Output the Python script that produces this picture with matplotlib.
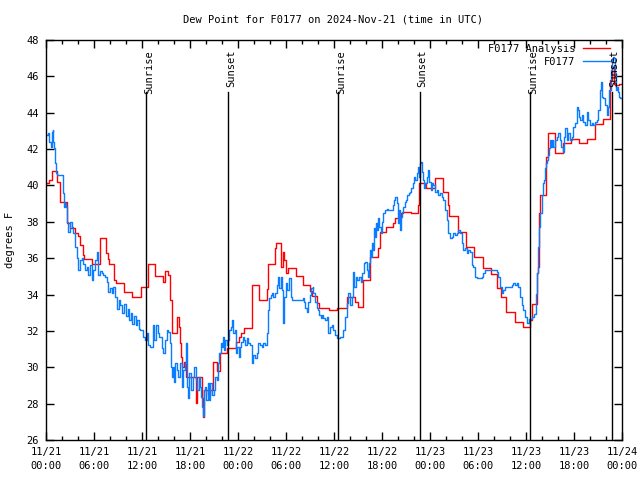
import matplotlib
matplotlib.use("Agg")
import matplotlib.pyplot as plt
import matplotlib.transforms as mtrans
from matplotlib.ticker import MultipleLocator

plt.rcParams['font.family'] = ['DejaVu Sans Mono']
plt.rcParams['font.size'] = 7.5

# hours since 2024-11-21 00:00 UTC
analysis_t = [0.0, 0.42, 0.71, 1.33, 1.75, 2.58, 3.0, 3.625, 3.95, 4.25, 4.58, 4.79, 5.71,
              6.75, 7.5, 7.7, 7.9, 8.5, 8.7, 9.8, 10.8, 11.83, 12.7, 13.65, 14.6, 14.875,
              15.25, 15.55, 15.71, 16.42, 16.6, 16.75, 16.83, 16.96, 17.25, 17.45, 18.7,
              18.9, 19.5, 19.6, 19.8, 20.2, 20.5, 20.83, 21.4, 21.7, 22.67, 23.75, 24.08,
              24.42, 24.75, 25.75, 26.6, 27.6, 27.8, 28.6, 28.75, 29.4, 29.6, 29.75, 30.0,
              30.2, 31.2, 32.1, 33.0, 33.2, 33.9, 34.1, 35.4, 36.42, 37.58, 38.6, 39.0,
              39.6, 40.5, 41.55, 41.75, 42.5, 43.4, 43.625, 44.33, 44.6, 45.58, 46.54,
              46.67, 47.5, 48.625, 49.58, 50.3, 50.42, 51.5, 52.5, 53.5, 54.58, 55.58,
              56.42, 56.9, 57.5, 58.6, 59.58, 60.5, 60.7, 61.0, 61.33, 61.46, 61.67,
              61.75, 62.5, 62.7, 63.6, 64.58, 65.58, 66.6, 67.67, 68.6, 69.58, 70.5,
              70.7, 71.0, 71.125, 71.6, 72.0]
analysis_v = [40.12, 40.3, 40.81, 40.21, 39.1, 37.92, 37.64, 37.4, 37.2, 36.72, 36.17, 35.94,
              35.68, 37.09, 36.3, 35.94, 35.68, 34.8, 34.62, 34.16, 33.88, 34.43, 35.68,
              35.02, 34.7, 35.31, 35.1, 33.7, 31.87, 32.74, 32.23, 31.32, 30.58, 30.04,
              30.3, 29.49, 28.02, 29.49, 28.3, 27.28, 28.76, 28.48, 28.76, 30.31, 29.8,
              30.77, 31.04, 31.41, 31.68, 31.9, 32.14, 34.52, 33.7, 34.3, 35.68, 36.54,
              36.81, 35.53, 36.36, 35.9, 35.2, 35.44, 35.0, 34.5, 34.2, 33.9, 33.55,
              33.24, 33.15, 33.24, 33.85, 33.6, 33.33, 34.8, 36.08, 36.54, 37.46, 37.7,
              37.92, 38.19, 38.46, 38.55, 38.46, 38.92, 40.12, 39.84, 40.39, 39.66, 38.95,
              38.32, 37.46, 36.6, 36.08, 35.44, 35.13, 34.34, 33.88, 33.06, 32.5, 32.23,
              32.62, 33.47, 33.5, 35.16, 35.5, 38.46, 39.47, 41.58, 42.86, 41.8, 42.31,
              42.53, 42.35, 42.53, 43.38, 43.63, 45.8, 46.53, 45.6, 45.52, 45.6, 45.6]

obs_t = [0.0, 0.29, 0.42, 0.58, 0.71, 0.83, 0.92, 1.04, 1.125, 1.25, 1.33, 2.17, 2.25,
         2.375, 2.5, 2.58, 2.79, 3.0, 3.21, 3.42, 3.625, 3.83, 4.04, 4.25, 4.46, 4.67,
         4.875, 5.08, 5.29, 5.5, 5.71, 5.92, 6.125, 6.33, 6.54, 6.75, 6.96, 7.17, 7.375,
         7.58, 7.79, 8.0, 8.21, 8.42, 8.625, 8.9, 9.1, 9.3, 9.5, 9.75, 10.0, 10.2, 10.4,
         10.6, 10.8, 11.0, 11.2, 11.4, 11.6, 11.75, 12.17, 12.38, 12.58, 12.79, 13.0,
         13.33, 13.5, 13.71, 13.96, 14.17, 14.46, 14.58, 14.88, 15.08, 15.29, 15.5, 15.58,
         15.71, 15.92, 16.04, 16.17, 16.33, 16.54, 16.75, 16.96, 17.17, 17.38, 17.5,
         17.67, 17.79, 17.92, 18.13, 18.33, 18.54, 18.75, 18.92, 19.08, 19.25, 19.38,
         19.5, 19.63, 19.75, 19.92, 20.04, 20.21, 20.38, 20.54, 20.75, 20.96, 21.17,
         21.38, 21.54, 21.67, 21.83, 21.96, 22.08, 22.25, 22.42, 22.58, 22.75, 22.92,
         23.08, 23.25, 23.42, 23.58, 23.75, 23.92, 24.08, 24.25, 24.42, 24.58, 24.75,
         24.92, 25.08, 25.29, 25.5, 25.71, 25.92, 26.13, 26.33, 26.54, 26.75, 26.96,
         27.17, 27.38, 27.58, 27.71, 27.88, 28.08, 28.25, 28.42, 28.63, 28.83, 29.04,
         29.17, 29.33, 29.46, 29.58, 29.67, 29.79, 30.0, 30.17, 30.38, 30.58, 30.75,
         32.08, 32.25, 32.42, 32.58, 32.79, 33.0, 33.17, 33.33, 33.42, 33.63, 33.83,
         34.04, 34.17, 34.33, 34.5, 34.67, 34.88, 35.08, 35.29, 35.5, 35.71, 35.92,
         36.13, 36.33, 36.75, 37.17, 37.375, 37.58, 37.79, 38.0, 38.21, 38.33, 38.42,
         38.54, 38.71, 38.92, 39.125, 39.33, 39.54, 39.75, 39.92, 40.08, 40.21, 40.375,
         40.5, 40.625, 40.79, 40.92, 41.04, 41.17, 41.29, 41.42, 41.54, 41.67, 41.83,
         42.0, 42.17, 42.375, 42.58, 42.79, 43.33, 43.5, 43.67, 43.83, 43.96, 44.08,
         44.21, 44.33, 44.5, 44.67, 44.83, 45.0, 45.17, 45.33, 45.5, 45.67, 45.83, 46.0,
         46.17, 46.33, 46.46, 46.58, 46.75, 46.875, 47.0, 47.17, 47.29, 47.42, 47.58,
         47.75, 47.92, 48.08, 48.21, 48.42, 48.625, 48.83, 49.04, 49.25, 49.46, 49.67,
         49.875, 50.08, 50.29, 50.5, 50.71, 50.92, 51.125, 51.33, 51.54, 51.75, 51.96,
         52.17, 52.375, 52.58, 52.79, 53.0, 53.21, 53.42, 53.625, 53.83, 54.46, 54.67,
         54.875, 56.33, 56.54, 56.75, 56.96, 57.17, 57.375, 58.21, 58.42, 58.625, 58.83,
         59.04, 59.25, 59.46, 59.67, 59.875, 60.08, 60.4, 60.7, 61.04, 61.25, 61.42,
         61.54, 61.67, 61.75, 61.96, 62.08, 62.25, 62.375, 62.5, 62.58, 62.71, 62.83,
         63.0, 63.125, 63.25, 63.42, 63.625, 63.83, 64.04, 64.25, 64.42, 64.58, 64.75,
         64.92, 65.08, 65.29, 65.5, 65.71, 65.92, 66.125, 66.33, 66.46, 66.58, 66.75,
         66.96, 67.17, 67.375, 67.58, 67.79, 68.0, 68.2, 68.4, 68.6, 68.83, 69.04, 69.25,
         69.375, 69.5, 69.67, 69.875, 70.08, 70.25, 70.42, 70.58, 70.71, 70.83, 70.96,
         71.08, 71.21, 71.33, 71.46, 71.58, 71.75, 72.0]
obs_v = [42.77, 42.86, 42.41, 42.13, 42.96, 43.05, 42.41, 42.04, 41.22, 40.67, 40.58, 39.57,
         38.83, 39.02, 38.83, 38.0, 37.45, 38.0, 37.73, 37.37, 36.64, 36.0, 35.36, 35.9,
         36.0, 35.7, 35.36, 35.54, 35.08, 35.63, 34.8, 35.36, 35.9, 36.36, 35.08, 35.27,
         35.17, 35.08, 34.99, 34.71, 34.16, 34.34, 34.07, 34.43, 33.88, 33.2, 33.7, 33.4,
         33.0, 33.5, 32.8, 33.2, 32.6, 33.0, 32.4, 32.8, 32.3, 32.6, 32.1, 32.05, 31.68,
         31.5, 31.87, 31.23, 31.13, 32.32, 31.5, 32.32, 31.87, 31.68, 31.04, 30.77, 31.5,
         32.05, 31.96, 31.32, 30.04, 29.49, 30.04, 29.21, 30.22, 29.86, 29.49, 30.22,
         28.94, 29.86, 30.22, 31.32, 28.94, 28.3, 29.67, 28.76, 29.49, 30.04, 29.3, 28.76,
         29.49, 28.94, 28.39, 27.84, 27.3, 28.76, 28.94, 28.21, 29.12, 28.21, 29.12, 28.48,
         28.76, 29.49, 29.3, 30.22, 30.77, 31.32, 31.13, 31.68, 30.95, 31.5, 31.23, 31.5,
         32.05, 32.23, 32.6, 31.87, 32.05, 30.77, 31.13, 30.58, 31.13, 31.41, 31.68, 31.5,
         31.23, 31.59, 31.32, 31.23, 30.22, 30.68, 30.5, 30.77, 31.32, 31.23, 31.13, 31.32,
         31.23, 31.87, 33.15, 33.79, 33.97, 34.06, 33.88, 34.06, 34.52, 34.98, 34.34, 34.98,
         34.25, 33.52, 32.42, 33.88, 34.61, 34.25, 34.89, 33.88, 33.7, 33.79, 33.6, 33.24,
         33.06, 33.6, 33.97, 34.34, 34.43, 34.07, 33.6, 33.24, 33.15, 32.88, 32.7, 32.88,
         32.7, 32.6, 32.79, 31.87, 32.23, 32.32, 32.05, 31.77, 31.59, 31.68, 32.05, 32.78,
         33.52, 34.07, 33.43, 33.89, 34.8, 35.26, 34.44, 34.98, 34.8, 34.98, 34.71, 35.17,
         35.72, 35.81, 35.35, 34.98, 35.72, 36.45, 36.08, 36.81, 36.45, 37.64, 37.18, 37.91,
         37.55, 38.19, 37.73, 37.37, 38.0, 38.46, 38.64, 38.73, 38.64, 38.92, 39.2, 39.38,
         39.01, 37.91, 38.64, 37.55, 38.28, 38.55, 38.83, 39.1, 39.2, 39.47, 39.56, 39.65,
         39.84, 40.11, 40.48, 40.3, 40.66, 41.03, 40.48, 41.21, 41.3, 40.75, 40.3, 39.84,
         40.11, 40.48, 40.84, 40.2, 39.75, 40.11, 40.02, 39.65, 39.75, 39.47, 39.56, 39.38,
         39.2, 38.64, 38.1, 37.37, 37.09, 37.18, 37.37, 37.27, 37.37, 37.55, 37.37, 36.81,
         36.45, 36.54, 36.27, 36.45, 36.36, 35.63, 35.54, 34.98, 34.89, 34.98, 35.17, 35.35,
         35.26, 34.98, 34.44, 34.07, 34.25, 34.44, 34.53, 34.62, 34.53, 34.62, 34.44, 33.89,
         33.43, 33.15, 32.78, 32.42, 32.68, 32.77, 32.95, 34.05, 35.16, 36.62, 37.72, 38.46,
         39.47, 40.11, 40.29, 40.94, 41.21, 41.39, 41.67, 42.04, 42.5, 42.13, 42.5, 42.13,
         42.5, 42.68, 42.86, 42.5, 42.13, 41.85, 42.68, 43.14, 42.5, 42.86, 42.5, 42.68,
         43.23, 43.41, 44.33, 44.15, 43.78, 43.6, 43.87, 43.5, 43.32, 44.06, 43.6, 43.32,
         43.41, 43.32, 43.5, 43.6, 44.15, 45.25, 45.7, 44.88, 44.79, 44.42, 43.87, 44.33,
         45.25, 46.35, 46.9, 47.08, 46.99, 46.17, 45.25, 45.43, 45.16, 44.88, 44.79, 44.79]

sun_t = [12.47, 22.72, 36.48, 46.7, 60.5, 70.7]
sun_labels = ['Sunrise', 'Sunset', 'Sunrise', 'Sunset', 'Sunrise', 'Sunset']

tick_hours = list(range(0, 73, 6))
tick_labels = ['11/21\n00:00', '11/21\n06:00', '11/21\n12:00', '11/21\n18:00',
               '11/22\n00:00', '11/22\n06:00', '11/22\n12:00', '11/22\n18:00',
               '11/23\n00:00', '11/23\n06:00', '11/23\n12:00', '11/23\n18:00',
               '11/24\n00:00']

fig = plt.figure(figsize=(6.4, 4.8), dpi=100)
ax = fig.add_axes([46 / 640, 40 / 480, 576 / 640, 400 / 480])

ax.plot(analysis_t, analysis_v, color='#ff0000', lw=1.0, drawstyle='steps-post',
        label='F0177 Analysis')
ax.plot(obs_t, obs_v, color='#0a7cff', lw=1.0, drawstyle='steps-post', label='F0177')

# sunrise / sunset markers
off = mtrans.offset_copy(ax.get_xaxis_transform(), fig=fig, x=3, y=0, units='dots')
for t, lab in zip(sun_t, sun_labels):
    ax.axvline(t, ymin=0, ymax=0.87, color='black', lw=1.0)
    ax.text(t, 0.975, lab, rotation=90, ha='center', va='top', transform=off)

ax.set_xlim(0, 72)
ax.set_ylim(26, 48)
ax.set_xticks(tick_hours)
ax.set_xticklabels(tick_labels, linespacing=1.45)
ax.xaxis.set_minor_locator(MultipleLocator(2))
ax.yaxis.set_major_locator(MultipleLocator(2))
ax.tick_params(which='major', direction='in', length=6, width=1,
               top=True, right=True, pad=5)
ax.tick_params(which='minor', direction='in', length=3, width=1, top=True)
for s in ax.spines.values():
    s.set_linewidth(1.0)

fig.text(333 / 640, 1 - 20 / 480, 'Dew Point for F0177 on 2024-Nov-21 (time in UTC)',
         ha='center', va='center')
fig.text(10 / 640, 0.5, 'degrees F', rotation=90, ha='center', va='center')

leg = ax.legend(loc='upper right', bbox_to_anchor=(0.979, 0.99), frameon=False,
                markerfirst=False, handlelength=2.6, handletextpad=0.7,
                labelspacing=0.25, borderaxespad=0, borderpad=0)

fig.savefig('out.png', dpi=100)
